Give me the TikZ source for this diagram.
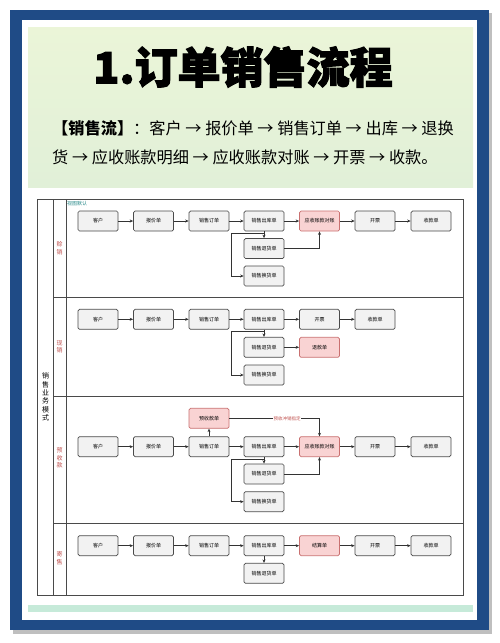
\documentclass[tikz,border=0pt]{standalone}
\usepackage{fontspec}
\setmainfont{Noto Sans CJK SC}
\usetikzlibrary{arrows.meta,calc}
\definecolor{frameblue}{HTML}{1F4B86}
\definecolor{hdrtop}{HTML}{EBF5D8}
\definecolor{hdrbot}{HTML}{E1F0D8}
\definecolor{mintstrip}{HTML}{C6EAD9}
\definecolor{boxfill}{HTML}{F2F2F2}
\definecolor{boxline}{HTML}{4A4A4A}
\definecolor{redfill}{HTML}{F9D3D3}
\definecolor{redline}{HTML}{C97070}
\definecolor{lanered}{HTML}{C0504D}
\definecolor{viewteal}{HTML}{2C8C8C}
\begin{document}
\begin{tikzpicture}[x=1pt,y=-1pt,
  box/.style={draw=boxline,fill=boxfill,rounded corners=1.5pt,line width=0.7pt,minimum width=40pt,minimum height=20pt,inner sep=0pt,font=\fontsize{5}{6}\selectfont},
  rbox/.style={box,draw=redline,fill=redfill},
  arr/.style={-{Stealth[length=3.5pt,width=3pt]},line width=0.6pt,draw=black!80},
  lanelbl/.style={text=lanered,font=\fontsize{6}{7.5}\selectfont,align=center,inner sep=0pt},
  grid/.style={draw=boxline,line width=0.8pt}]
\useasboundingbox (0,0) rectangle (500,643);
% frame
\fill[white] (0,0) rectangle (500,643);
\fill[black!25] (13,13) rectangle (492,634);
\fill[frameblue] (10,10) rectangle (489,630);
\fill[white] (22,20) rectangle (477,620);
\shade[top color=hdrtop,bottom color=hdrbot] (28,27) rectangle (473,187);
\fill[mintstrip] (28,605) rectangle (473,612);
% header text
\node[font=\fontsize{43}{46}\selectfont\bfseries\addfontfeatures{FakeBold=2.5}] (title) at (243,67) {1.订单销售流程};
\node[anchor=west,font=\fontsize{16.2}{20}\selectfont,inner sep=0pt] (l1) at (52,128) {{\bfseries【销售流】}：客户 → 报价单 → 销售订单 → 出库 → 退换};
\node[anchor=west,font=\fontsize{16.2}{20}\selectfont,inner sep=0pt] (l2) at (52,157) {货 → 应收账款明细 → 应收账款对账 → 开票 → 收款。};
% diagram frame
\draw[grid,fill=white] (37,199) rectangle (463,595);
\draw[grid] (53,199) -- (53,595);
\draw[grid] (66,199) -- (66,595);
\draw[grid] (53,297.5) -- (463,297.5);
\draw[grid] (53,396.5) -- (463,396.5);
\draw[grid] (53,523) -- (463,523);
\node[anchor=west,text=viewteal,font=\fontsize{5}{6}\selectfont,inner sep=0pt] (view) at (67,204) {视图默认};
\node[font=\fontsize{7}{8.3}\selectfont,align=center,inner sep=0pt] (mode) at (45.5,397) {销\\售\\业\\务\\模\\式};
\node[lanelbl] (lane1) at (59.5,248) {赊\\销};
\node[lanelbl] (lane2) at (59.5,347) {现\\销};
\node[lanelbl] (lane3) at (59.5,458) {预\\收\\款};
\node[lanelbl] (lane4) at (59.5,558) {寄\\售};
% lane 1
\node[box] (a1) at (98,221) {客户};
\node[box] (a2) at (153.5,221) {报价单};
\node[box] (a3) at (209,221) {销售订单};
\node[box] (a4) at (264,221) {销售出库单};
\node[rbox] (a5) at (319.5,221) {应收账款对账};
\node[box] (a6) at (375,221) {开票};
\node[box] (a7) at (431,221) {收款单};
\node[box] (at) at (264,248.5) {销售退货单};
\node[box] (ah) at (264,276) {销售换货单};
\draw[arr] (a1) -- (a2);
\draw[arr] (a2) -- (a3);
\draw[arr] (a3) -- (a4);
\draw[arr] (a4) -- (a5);
\draw[arr] (a5) -- (a6);
\draw[arr] (a6) -- (a7);
\draw[arr] (a4.south) -- (at.north);
\draw[arr] (a4.south) -- ++(0,2) -| ($(ah.west)+(-12,0)$) -- (ah.west);
\draw[arr] (at.east) -| (a5.south);
% lane 2
\node[box] (b1) at (98,319.3) {客户};
\node[box] (b2) at (153.5,319.3) {报价单};
\node[box] (b3) at (209,319.3) {销售订单};
\node[box] (b4) at (264,319.3) {销售出库单};
\node[box] (b5) at (319.5,319.3) {开票};
\node[box] (b6) at (375,319.3) {收款单};
\node[box] (bt) at (264,347.3) {销售退货单};
\node[box] (bh) at (264,375) {销售换货单};
\node[rbox] (br) at (319.5,347.3) {退款单};
\draw[arr] (b1) -- (b2);
\draw[arr] (b2) -- (b3);
\draw[arr] (b3) -- (b4);
\draw[arr] (b4) -- (b5);
\draw[arr] (b5) -- (b6);
\draw[arr] (b4.south) -- (bt.north);
\draw[arr] (b4.south) -- ++(0,2) -| ($(bh.west)+(-12,0)$) -- (bh.west);
\draw[arr] (bt) -- (br);
% lane 3
\node[box] (c1) at (98,446.7) {客户};
\node[box] (c2) at (153.5,446.7) {报价单};
\node[box] (c3) at (209,446.7) {销售订单};
\node[box] (c4) at (264,446.7) {销售出库单};
\node[rbox] (c5) at (319.5,446.7) {应收账款对账};
\node[box] (c6) at (375,446.7) {开票};
\node[box] (c7) at (431,446.7) {收款单};
\node[rbox] (cp) at (209,418.3) {预收款单};
\node[box] (ct) at (264,474) {销售退货单};
\node[box] (ch) at (264,501.7) {销售换货单};
\draw[arr] (c1) -- (c2);
\draw[arr] (c2) -- (c3);
\draw[arr] (c3) -- (c4);
\draw[arr] (c4) -- (c5);
\draw[arr] (c5) -- (c6);
\draw[arr] (c6) -- (c7);
\draw[arr] (c3) -- (cp);
\draw[arr] (cp.east) -| node[pos=0.32,fill=white,text=lanered,font=\fontsize{4.5}{5}\selectfont,inner sep=0.5pt] (cpl) {预收冲销指定} (c5.north);
\draw[arr] (c4.south) -- (ct.north);
\draw[arr] (c4.south) -- ++(0,2) -| ($(ch.west)+(-12,0)$) -- (ch.west);
\draw[arr] (ct.east) -| (c5.south);
% lane 4
\node[box] (d1) at (98,545.7) {客户};
\node[box] (d2) at (153.5,545.7) {报价单};
\node[box] (d3) at (209,545.7) {销售订单};
\node[box] (d4) at (264,545.7) {销售出库单};
\node[rbox] (d5) at (319.5,545.7) {结算单};
\node[box] (d6) at (375,545.7) {开票};
\node[box] (d7) at (431,545.7) {收款单};
\node[box] (dt) at (264,573.3) {销售退货单};
\draw[arr] (d1) -- (d2);
\draw[arr] (d2) -- (d3);
\draw[arr] (d3) -- (d4);
\draw[arr] (d4) -- (d5);
\draw[arr] (d5) -- (d6);
\draw[arr] (d6) -- (d7);
\draw[arr] (d4) -- (dt);
\end{tikzpicture}
\end{document}
